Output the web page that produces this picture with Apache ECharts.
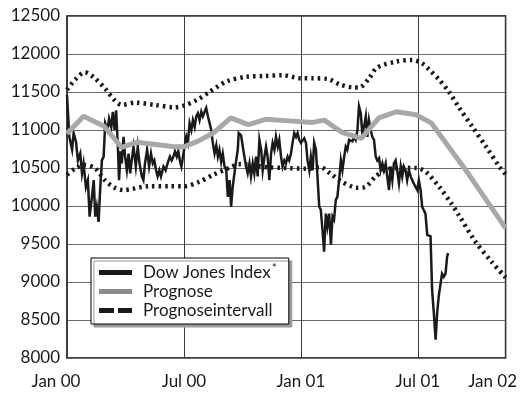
<!DOCTYPE html>
<html>
<head>
<meta charset="utf-8">
<script src="https://cdn.jsdelivr.net/npm/echarts@6/dist/echarts.min.js"></script>
<style>html,body{margin:0;padding:0;background:#fff}#c{width:520px;height:393px}</style>
</head>
<body>
<div id="c"></div>
<script>
// x values are months since Jan 2000
const tickValues = [0, 6, 12, 18, 22.5];
const tickLabels = ['Jan 00', 'Jul 00', 'Jan 01', 'Jul 01', 'Jan 02'];

const djMonth = [0.00,0.12,0.26,0.34,0.46,0.56,0.68,0.77,0.85,0.97,1.07,1.16,1.28,1.37,1.45,1.53,1.62,1.70,1.79,1.88,1.96,2.08,2.16,2.27,2.35,2.44,2.52,2.61,2.67,2.75,2.81,2.90,2.98,3.07,3.16,3.24,3.32,3.41,3.53,3.63,3.72,3.84,3.92,4.00,4.11,4.21,4.31,4.40,4.48,4.57,4.65,4.74,4.82,4.95,5.06,5.16,5.28,5.37,5.46,5.54,5.63,5.71,5.79,
5.87,5.95,6.03,6.12,6.20,6.29,6.38,6.46,6.55,6.63,6.71,6.80,6.89,6.97,7.06,7.14,7.23,7.31,7.40,7.48,7.57,7.66,7.74,7.82,7.91,7.99,8.08,8.17,8.25,8.34,8.42,8.50,8.59,8.68,8.76,8.81,8.93,9.02,9.10,9.19,9.27,9.36,9.44,9.53,9.61,9.70,9.78,9.87,9.96,10.04,10.13,10.21,10.29,10.38,10.47,10.55,10.64,10.72,10.81,10.89,10.98,11.06,11.15,11.23,11.32,11.40,11.49,11.57,11.66,11.75,11.83,11.91,12.00,
12.08,12.17,12.26,12.34,12.43,12.51,12.60,12.68,12.77,12.85,12.94,13.02,13.11,13.19,13.28,13.36,13.45,13.54,13.62,13.70,13.79,13.87,13.96,14.05,14.13,14.22,14.30,14.38,14.47,14.56,14.64,14.73,14.81,14.90,14.98,15.07,15.15,15.24,15.33,15.41,15.49,15.58,15.66,15.75,15.84,15.92,16.01,16.09,16.18,16.26,16.35,16.43,16.52,16.60,16.69,16.77,16.86,16.94,17.03,17.12,17.20,17.28,17.37,17.45,17.54,17.63,17.71,17.80,17.88,17.97,18.05,18.14,18.22,18.31,18.39,18.48,18.65,18.73,18.82,18.91,18.99,19.07,19.16,19.24,19.33,19.42,19.50,19.55];
const djValue = [11460,10910,10740,10960,10850,10600,10690,10430,10560,10250,10340,9860,10120,10340,9860,9990,9790,10210,10600,10650,11090,11000,11150,11040,11240,11000,11260,10780,10340,10720,10560,10910,10650,10470,10690,10430,10600,10780,10520,10780,10560,10390,10340,10560,10740,10520,10690,10560,10600,10470,10390,10470,10390,10520,10470,10560,10650,10600,10650,10720,10650,10720,10600,
10520,10650,10780,10910,10830,11090,11000,11130,11040,11180,11220,11130,11240,11180,11240,11290,11180,11200,11000,10830,10690,10800,10650,10740,10580,10690,10520,10470,10120,10340,9990,10250,10430,10600,10740,10960,10930,10780,10650,10520,10430,10560,10390,10560,10430,10650,10390,10870,10740,10470,10650,10780,10650,10340,10690,10830,10740,10910,10780,10870,10650,10520,10600,10560,10650,10600,10690,10830,10960,10910,10960,10870,10830,
10830,10890,10830,10600,10470,10650,10470,10830,10740,10390,9990,9950,9680,9400,9900,9730,9900,9490,9860,9820,10080,10120,10340,10600,10470,10650,10780,10740,10870,10890,10850,10910,10870,11000,11310,11220,10960,11040,11180,10910,11130,11000,10910,10870,10650,10600,10630,10470,10560,10470,10560,10390,10210,10520,10340,10560,10600,10470,10300,10520,10390,10520,10470,10340,10470,10390,10340,10340,10250,10210,10340,10210,9990,9990,9900,9620,9600,8900,8590,8240,8590,8810,8810,9110,9070,9110,9330,9380];

const progMonth = [0, 0.85, 1.9, 2.8, 3.6, 5.5, 6.0, 6.7, 7.5, 8.4, 9.3, 10.2, 11.4, 12.6, 13.2, 14.1, 15.1, 16.0, 16.9, 17.9, 18.7, 20.6, 22.5];
const progValue = [10950, 11180, 11050, 10770, 10840, 10780, 10780, 10850, 10960, 11160, 11070, 11140, 11120, 11100, 11130, 10970, 10890, 11160, 11240, 11200, 11090, 10420, 9710];

const upMonth = [0, 0.41, 0.92, 1.43, 1.94, 2.45, 2.81, 3.5, 4.5, 5.5, 6.0, 6.7, 7.3, 8.2, 9.2, 10.1, 11.1, 12.0, 12.6, 13.4, 14.0, 14.7, 15.0, 15.5, 15.9, 16.9, 17.7, 18.2, 18.6, 19.1, 19.6, 20.1, 20.8, 21.5, 22.2, 22.5];
const upValue = [11530, 11660, 11760, 11680, 11550, 11390, 11330, 11360, 11330, 11300, 11320, 11400, 11500, 11640, 11700, 11710, 11720, 11680, 11680, 11670, 11600, 11560, 11560, 11680, 11820, 11900, 11920, 11880, 11790, 11660, 11500, 11300, 11040, 10780, 10510, 10420];

const loMonth = [0, 0.41, 0.92, 1.43, 1.94, 2.45, 2.9, 4.2, 5.3, 6.0, 6.8, 7.5, 8.4, 8.8, 10.3, 11.3, 12.3, 13.0, 13.5, 14.1, 14.9, 15.3, 15.8, 16.3, 17.0, 17.9, 18.4, 19.1, 19.7, 20.1, 20.9, 21.8, 22.5];
const loValue = [10410, 10490, 10540, 10500, 10340, 10240, 10210, 10260, 10260, 10260, 10320, 10410, 10510, 10550, 10510, 10500, 10490, 10510, 10430, 10320, 10240, 10250, 10380, 10470, 10500, 10500, 10450, 10250, 10040, 9880, 9550, 9260, 9060];

const zip = (a, b) => a.map((x, i) => [x, b[i]]);
const FONT = 'Lato';
const TXT = '#1a1a1a';

const chart = echarts.init(document.getElementById('c'), null, {renderer: 'canvas'});
const dotted = {color: TXT, width: 4.5, type: [2.5, 4], cap: 'butt'};

chart.setOption({
  animation: false,
  backgroundColor: '#fff',
  textStyle: {fontFamily: FONT},
  grid: {left: 67, right: 13, top: 16, bottom: 35, show: true, borderColor: '#000', borderWidth: 1.5},
  xAxis: {
    type: 'value', min: 0, max: 22.5, interval: 6,
    axisLine: {show: false},
    axisTick: {show: false, customValues: tickValues},
    splitLine: {show: true, lineStyle: {color: '#3a3a3a', width: 1}},
    axisLabel: {
      customValues: tickValues,
      fontFamily: FONT, fontSize: 17, color: TXT, margin: 15,
      formatter: function (v) {
        let i = tickValues.findIndex(t => Math.abs(t - v) < 1e-6);
        if (i < 0) return '';
        if (i === 0) return '{f|' + tickLabels[i] + '}';
        if (i === tickValues.length - 1) return '{l|' + tickLabels[i] + '}';
        return tickLabels[i];
      },
      rich: {
        f: {fontFamily: FONT, fontSize: 17, color: TXT, padding: [0, 22, 0, 0]},
        l: {fontFamily: FONT, fontSize: 17, color: TXT, padding: [0, 26, 0, 0]}
      }
    }
  },
  yAxis: {
    type: 'value', min: 8000, max: 12500, interval: 500,
    axisLine: {show: false}, axisTick: {show: false},
    splitLine: {show: true, lineStyle: {color: '#6a6a6a', width: 1}},
    axisLabel: {fontFamily: FONT, fontSize: 17, color: TXT, margin: 7, formatter: v => String(v)}
  },
  legend: {
    orient: 'vertical', left: 91, top: 258,
    itemWidth: 33, itemHeight: 5, itemGap: 2,
    padding: [4, 12, 5, 8],
    backgroundColor: '#fff', borderColor: '#000', borderWidth: 1,
    shadowColor: '#9a9a9a', shadowOffsetX: 3, shadowOffsetY: 3, shadowBlur: 0,
    itemStyle: {borderWidth: 0},
    data: [
      {name: 'Dow Jones Index', icon: 'path://M0,0H33V5H0Z', itemStyle: {color: TXT}},
      {name: 'Prognose', icon: 'path://M0,0H33V5H0Z', itemStyle: {color: '#8c8c8c'}},
      {name: 'Prognoseintervall', icon: 'path://M0,0H15V5H0Z M19,0H33V5H19Z', itemStyle: {color: TXT}}
    ],
    formatter: function (name) {
      if (name === 'Dow Jones Index') return '{t|' + name + '}{s|*}';
      return '{t|' + name + '}';
    },
    textStyle: {
      fontFamily: FONT, fontSize: 17, color: TXT,
      rich: {
        t: {fontFamily: FONT, fontSize: 17, color: TXT, lineHeight: 20, padding: [0, 0, 0, 6]},
        s: {fontFamily: FONT, fontSize: 12, color: TXT, padding: [0, 0, 9, 1]}
      }
    }
  },
  series: [
    {name: 'Prognoseintervall', type: 'line', data: zip(upMonth, upValue), showSymbol: false, smooth: 0.3, lineStyle: dotted, itemStyle: {color: TXT}, z: 2},
    {name: 'Prognoseintervall', type: 'line', data: zip(loMonth, loValue), showSymbol: false, smooth: 0.3, lineStyle: dotted, itemStyle: {color: TXT}, z: 2},
    {name: 'Dow Jones Index', type: 'line', data: zip(djMonth, djValue), showSymbol: false, lineStyle: {color: TXT, width: 2.5, join: 'miter'}, itemStyle: {color: TXT}, z: 3},
    {name: 'Prognose', type: 'line', data: zip(progMonth, progValue), showSymbol: false, lineStyle: {color: '#a8a8a8', width: 5}, itemStyle: {color: '#a8a8a8'}, z: 4}
  ]
});
</script>
</body>
</html>
